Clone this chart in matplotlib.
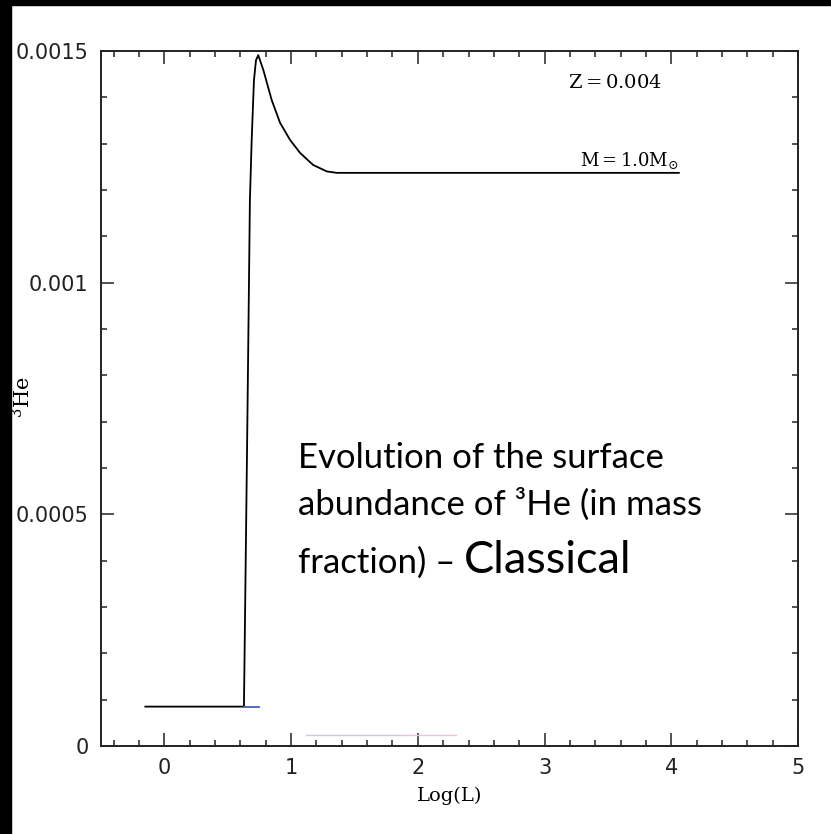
# Surface 3He abundance vs Log(L), Z=0.004, M=1.0 Msun (classical model)
import matplotlib
matplotlib.use("Agg")
import matplotlib.pyplot as plt
from matplotlib.ticker import MultipleLocator
from matplotlib.patches import Rectangle

# Data
logL = [-0.15, 0.628, 0.641, 0.654, 0.666, 0.675, 0.689, 0.707, 0.723, 0.741,
        0.781, 0.847, 0.913, 0.992, 1.071, 1.174, 1.283, 1.362, 4.06]
he3 = [8.5e-5, 8.5e-5, 3.8e-4, 6.76e-4, 9.6e-4, 1.178e-3, 1.308e-3, 1.437e-3,
       1.480e-3, 1.491e-3, 1.459e-3, 1.394e-3, 1.345e-3, 1.308e-3, 1.280e-3,
       1.254e-3, 1.240e-3, 1.237e-3, 1.237e-3]

# short blue stub at the end of the starting plateau
stub_x = [0.63, 0.75]
stub_y = [8.5e-5, 8.5e-5]

# faint leftover line near the bottom axis
faint_x = [1.12, 1.9, 2.30]
faint_y = [2.4e-5, 2.4e-5, 2.4e-5]

xticks = [0, 1, 2, 3, 4, 5]
yticks = [0, 0.0005, 0.001, 0.0015]
ytick_labels = ["0", "0.0005", "0.001", "0.0015"]

plt.rcParams['mathtext.fontset'] = 'dejavuserif'

fig = plt.figure(figsize=(8.31, 8.34), dpi=100)
fig.patch.set_facecolor("white")
ax = fig.add_axes([101 / 831, 1 - 746 / 834, 697 / 831, 695 / 834])

ax.plot(logL, he3, color="black", lw=1.3)
ax.plot(stub_x, stub_y, color="#4a5cb0", lw=1.3)
ax.plot(faint_x[:2], faint_y[:2], color="#cfc6dc", lw=1.0)
ax.plot(faint_x[1:], faint_y[1:], color="#f3c0dc", lw=1.0)

ax.set_xlim(-0.5, 5)
ax.set_ylim(0, 0.0015)
ax.set_xticks(xticks)
ax.set_yticks(yticks)
ax.set_yticklabels(ytick_labels)
ax.xaxis.set_minor_locator(MultipleLocator(0.2))
ax.yaxis.set_minor_locator(MultipleLocator(0.0001))
ax.tick_params(which="both", direction="in", top=True, right=True,
               width=1.1, color="#222222")
ax.tick_params(which="major", length=9.3, labelsize=15, labelcolor="#222222")
ax.tick_params(axis="y", which="major", pad=9)
ax.tick_params(axis="x", which="major", pad=9)
ax.tick_params(which="minor", length=4.5)
for s in ax.spines.values():
    s.set_linewidth(1.4)
    s.set_color("#222222")

ax.set_xlabel("Log(L)", family="DejaVu Serif", fontsize=14)
ax.xaxis.set_label_coords(0.5, -0.058)
fig.text(23 / 831, 1 - 397 / 834, r"$\mathrm{^{3}He}$", rotation=90,
         ha="center", va="center", fontsize=15)

ax.text(3.56, 1.433e-3, r"$\mathrm{Z=0.004}$", ha="center", va="center",
        fontsize=14)
ax.text(4.06, 1.251e-3, r"$\mathrm{M=1.0M_{\odot}}$", ha="right",
        va="baseline", fontsize=13)

# slide annotation
note = dict(family="Lato", color="black")
fig.text(298 / 831, 1 - 468 / 834, "Evolution of the surface", fontsize=25,
         va="baseline", **note)
fig.text(298 / 831, 1 - 515 / 834, "abundance of \u00b3He (in mass", fontsize=25,
         va="baseline", **note)
t3 = fig.text(298 / 831, 1 - 573 / 834, "fraction) \u2013", fontsize=25,
              va="baseline", **note)
fig.canvas.draw()
end_px = t3.get_window_extent().x1
fig.text((end_px + 9) / 831, 1 - 573 / 834, "Classical", fontsize=32.5,
         va="baseline", **note)

# black frame strips of the slide
fig.add_artist(Rectangle((0, 0), 11 / 831, 1, transform=fig.transFigure,
                         color="black", zorder=10))
fig.add_artist(Rectangle((0, 1 - 5 / 834), 1, 5 / 834, transform=fig.transFigure,
                         color="black", zorder=10))

fig.savefig("out.png", dpi=100)
